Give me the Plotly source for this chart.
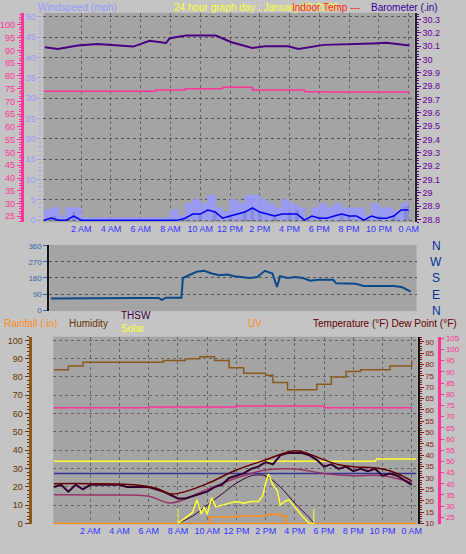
import plotly.graph_objects as go

# ---------- DATA ----------
hh = [i * 0.5 - 0.5 for i in range(50)]  # half-hour steps from -0.5 to 24.0
tick_hours = [2, 4, 6, 8, 10, 12, 14, 16, 18, 20, 22, 24]
tick_text = ["2 AM", "4 AM", "6 AM", "8 AM", "10 AM", "12 PM", "2 PM", "4 PM", "6 PM", "8 PM", "10 PM", "0 AM"]

wind_gust = [2.5, 3, 1, 3, 3, 0.5, 0.5, 0.5, 0.5, 0.5, 0.5, 0.5, 0.5, 0.5, 0.5, 0.5, 0.5, 2.5, 1, 4,
             5, 4, 6, 3, 2, 5, 4, 6, 6, 5, 4, 3, 5, 4, 3, 0.5, 3, 4, 3, 4,
             3, 3, 3, 1, 4, 3, 3, 2, 4, 5]
wind_avg = [0, 0.5, 0, 0, 1, 0, 0, 0, 0, 0, 0, 0, 0, 0, 0, 0, 0, 0, 0, 0.5,
            1.5, 1.5, 2.5, 2, 0.5, 1, 1.5, 2, 3, 2, 1.5, 1, 1.5, 1.5, 1.5, 0, 1, 0.5, 0.5, 1,
            1.5, 1, 1, 0, 1, 0.5, 0.5, 1, 2.5, 2.5]
green_t = [0.2, 1.5, 9.0, 10.0, 11.0, 12.0, 13.0, 13.5, 14.0, 15.0, 16.0, 16.5, 18.0, 19.5, 20.0, 22.0, 23.0, 23.8]
green_v = [1, 2, 1, 1.5, 2, 1, 2.5, 3, 2, 1.5, 2, 2.5, 1, 1, 1, 1, 1, 3.5]

baro_t = [-0.44, 0.44, 1.77, 3.09, 5.5, 6.6, 7.7, 7.95, 9.05, 11.04, 12.1, 13.5, 14.35, 15.9, 16.6, 18.3, 21.6, 22.5, 24.06]
baro_v = [30.092, 30.08, 30.105, 30.117, 30.097, 30.14, 30.124, 30.16, 30.18, 30.18, 30.13, 30.087, 30.1, 30.1, 30.08, 30.11, 30.12, 30.125, 30.105]
intemp_t = [-0.5, 3.0, 7.0, 9.0, 11.5, 13.5, 17.0, 18.5, 24.0]
intemp_v = [74.0, 74.0, 74.5, 75.0, 75.6, 74.5, 73.8, 73.7, 74.0]

dir_t = [0.4, 2.0, 4.0, 6.0, 7.5, 7.7, 8.0, 9.0, 9.1, 9.5, 10.0, 10.5, 11.0, 11.5, 12.0, 12.5, 13.0, 13.5, 14.0,
         14.5, 15.0, 15.3, 15.5, 16.0, 16.5, 17.0, 17.5, 18.0, 19.0, 19.2, 20.5, 21.0, 23.0, 23.5, 23.7, 24.1]
dir_v = [65, 67, 68, 68, 68, 58, 70, 70, 180, 195, 215, 220, 205, 195, 200, 190, 185, 180, 185,
         220, 205, 130, 190, 180, 185, 180, 165, 170, 170, 150, 148, 135, 135, 130, 122, 103]

hum_t = [-0.5, 0.5, 1.5, 3.0, 5.0, 7.0, 8.5, 9.5, 10.5, 11.5, 12.5, 13.5, 14.0, 14.5, 15.5, 16.5, 17.5, 18.5, 19.5, 20.5, 21.5, 22.5, 24.0]
hum_v = [84, 86, 88, 88, 88, 89, 90, 91, 89, 85, 82, 82, 81, 77, 73, 73, 76, 80, 83, 84, 84, 86, 89]
dp2_t = [-0.5, 6.0, 12.0, 18.0, 24.0]
dp2_v = [74.0, 74.3, 74.8, 74.0, 74.2]

temp_t = [-0.5, 2.0, 5.0, 6.5, 7.5, 8.5, 10.0, 12.0, 14.0, 16.0, 17.0, 18.0, 19.0, 20.0, 22.0, 23.0, 24.0]
temp_v = [27.5, 27.5, 27, 25.5, 23, 24, 27.5, 33.5, 38, 42, 40.5, 38, 35.8, 35, 34, 32, 28.7]
thsw_v = [26, 27, 24, 27, 25, 27, 27, 27, 27, 27, 26, 26, 26, 26, 25, 24, 22.5, 21, 21, 22,
          23, 24, 26, 27, 30, 31, 32, 34, 35, 37, 36, 40, 41, 41, 41, 40, 38, 35, 36, 34,
          35, 33, 34, 33, 34, 31, 32, 31, 29, 27]
dew_t = [-0.5, 3.0, 6.0, 7.5, 10.0, 12.0, 14.0, 16.0, 18.0, 20.0, 22.0, 24.0]
dew_v = [22.6, 22.5, 22, 19, 25, 30, 33.5, 34, 32, 31, 31, 28]

freeze_t = [-0.5, 24.3]
freeze_v = [32, 32]
yl_t = [-0.5, 21.5, 21.6, 24.3]
yl_v = [37.4, 37.4, 38.4, 38.4]

sunmax_t = [8.0, 9.0, 10.0, 11.0, 12.0, 13.0, 13.5, 14.0, 15.0, 16.0, 17.0, 17.3]
sunmax_v = [0, 4, 10, 16, 22, 26, 26.5, 26, 20, 11, 3, 0]
solar_t = [8.0, 9.0, 9.3, 9.6, 9.8, 10.0, 10.3, 10.6, 11.0, 11.5, 12.0, 12.5, 13.0, 13.5, 13.8, 14.0, 14.2, 14.5, 14.8, 15.0, 15.3, 15.6, 16.0, 16.5, 17.0, 17.3]
solar_v = [0, 6, 13, 5, 9, 5, 14, 9, 10, 11, 12, 11, 12, 12, 15, 22, 27, 21, 18, 10, 12, 13, 9, 4, 0, 0]
uv_t = [10.0, 10.1, 12.0, 13.5, 14.0, 14.2, 15.0, 15.4, 15.45]
uv_v = [0, 3.5, 4.0, 4.2, 4.4, 5.0, 4.2, 3.5, 0]
zero_t = [-0.5, 24.3]
zero_v = [0, 0]
sun_t = [8.0, 8.0, None, 17.3, 17.3]
sun_v = [0, 8, None, 0, 8]

# ---------- FIGURE ----------
fig = go.Figure()
W, H = 466, 554
def px(v): return v / W
def py(v): return 1 - v / H

# Panel 1
fig.add_trace(go.Scatter(x=hh, y=wind_gust, mode="lines", line=dict(color="#9999ff", width=1, shape="hv"),
                         fill="tozeroy", fillcolor="rgba(153,153,255,0.85)", xaxis="x", yaxis="y"))
fig.add_trace(go.Bar(x=green_t, y=green_v, width=0.25, marker=dict(color="#004400", line_width=0), xaxis="x", yaxis="y"))
fig.add_trace(go.Scatter(x=hh, y=wind_avg, mode="lines", line=dict(color="#0000ee", width=1.5), xaxis="x", yaxis="y"))
fig.add_trace(go.Scatter(x=intemp_t, y=intemp_v, mode="lines", line=dict(color="#ff3399", width=1.5, shape="hv"), xaxis="x", yaxis="y2"))
fig.add_trace(go.Scatter(x=baro_t, y=baro_v, mode="lines", line=dict(color="#4b0082", width=2), xaxis="x", yaxis="y3"))
# Panel 2
fig.add_trace(go.Scatter(x=dir_t, y=dir_v, mode="lines", line=dict(color="#0a4a8a", width=2), xaxis="x2", yaxis="y4"))
# Panel 3
fig.add_trace(go.Scatter(x=hum_t, y=hum_v, mode="lines", line=dict(color="#8b5a1a", width=1.5, shape="hv"), xaxis="x3", yaxis="y5"))
fig.add_trace(go.Scatter(x=dp2_t, y=dp2_v, mode="lines", line=dict(color="#ff3399", width=1.5, shape="hv"), xaxis="x3", yaxis="y8"))
fig.add_trace(go.Scatter(x=yl_t, y=yl_v, mode="lines", line=dict(color="#ffff33", width=1.5), xaxis="x3", yaxis="y7"))
fig.add_trace(go.Scatter(x=freeze_t, y=freeze_v, mode="lines", line=dict(color="#333399", width=1.5), xaxis="x3", yaxis="y7"))
fig.add_trace(go.Scatter(x=dew_t, y=dew_v, mode="lines", line=dict(color="#993366", width=1.5, shape="spline"), xaxis="x3", yaxis="y7"))
fig.add_trace(go.Scatter(x=hh, y=thsw_v, mode="lines", line=dict(color="#330033", width=2), xaxis="x3", yaxis="y7"))
fig.add_trace(go.Scatter(x=temp_t, y=temp_v, mode="lines", line=dict(color="#660000", width=1.5, shape="spline"), xaxis="x3", yaxis="y7"))
fig.add_trace(go.Scatter(x=sunmax_t, y=sunmax_v, mode="lines", line=dict(color="#330033", width=1, shape="spline"), xaxis="x3", yaxis="y9"))
fig.add_trace(go.Scatter(x=sun_t, y=sun_v, mode="lines", line=dict(color="#ffff33", width=1), xaxis="x3", yaxis="y9"))
fig.add_trace(go.Scatter(x=zero_t, y=zero_v, mode="lines", line=dict(color="#ff8c1a", width=1.5), xaxis="x3", yaxis="y9"))
fig.add_trace(go.Scatter(x=uv_t, y=uv_v, mode="lines", line=dict(color="#ff8c1a", width=1.5, shape="hv"), xaxis="x3", yaxis="y9"))
fig.add_trace(go.Scatter(x=solar_t, y=solar_v, mode="lines", line=dict(color="#ffff33", width=1.5), xaxis="x3", yaxis="y9"))

tickf = dict(family="Liberation Sans", size=9, color="#3333ff")
grid = dict(showgrid=True, gridcolor="#666666", griddash="dot", gridwidth=1)
xcommon = dict(tickvals=tick_hours, ticktext=tick_text, tickfont=tickf, ticks="", zeroline=False, **grid)
def yax(color, rng, dtick, **kw):
    d = dict(range=rng, dtick=dtick, tickfont=dict(family="Liberation Sans", size=9, color=color),
             showline=True, linecolor=color, linewidth=2, ticks="outside", tickcolor=color, ticklen=4,
             minor=dict(ticks="outside", ticklen=2, tickcolor=color), zeroline=False, showgrid=False)
    d.update(kw)
    return d

fig.update_layout(
    width=W, height=H, margin=dict(l=0, r=0, t=0, b=0), showlegend=False,
    paper_bgcolor="#c4c4c4", plot_bgcolor="#a4a4a4", barmode="overlay",
    font=dict(family="Liberation Sans"),
    xaxis=dict(domain=[px(42), px(418)], range=[-0.53, 24.4], anchor="y", **xcommon),
    yaxis=yax("#9999ff", [-0.5, 51], 5, showgrid=True, gridcolor="#555555", griddash="dot", linewidth=0, showline=False,
              position=px(40), anchor="free", domain=[py(222), py(10)]),
    yaxis2=yax("#ff3399", [22.7, 104.7], 5, overlaying="y", anchor="free", position=px(20), linewidth=3),
    yaxis3=yax("#660099", [28.78, 30.35], 0.1, overlaying="y", side="right", anchor="x", linecolor="#222222"),
    xaxis2=dict(domain=[px(48), px(420)], range=[0.3, 24.5], anchor="y4", showticklabels=False, showgrid=False, zeroline=False),
    yaxis4=yax("#3366aa", [-5, 365], 90, domain=[py(312), py(245)], anchor="x2", linecolor="#111111",
               showgrid=True, gridcolor="#555555", griddash="dot", tickfont=dict(size=8, color="#3366aa")),
    xaxis3=dict(domain=[px(52), px(421)], range=[-0.53, 24.4], anchor="y5", **xcommon),
    yaxis5=yax("#663300", [-0.5, 102], 10, domain=[py(528), py(338)], anchor="free", position=px(28),
               linecolor="#8b5a1a", linewidth=3, showgrid=True, gridcolor="#666666", griddash="dot"),
    yaxis6=yax("#ff8c1a", [-0.005, 1.22], 0.1, overlaying="y5", anchor="free", position=px(50), linecolor="#111111"),
    yaxis7=yax("#8b1a1a", [9.6, 92.2], 5, overlaying="y5", side="right", anchor="x3", linecolor="#111111",
               tickfont=dict(size=8, color="#8b1a1a")),
    yaxis8=yax("#ff3399", [21.9, 105.7], 5, overlaying="y5", side="right", anchor="free", position=px(443), linewidth=3,
               ticklen=3, tickfont=dict(size=8, color="#ff3399"), minor=dict(ticks="")),
    yaxis9=dict(overlaying="y5", range=[-0.5, 102], visible=False),
)

def ann(text, x, y, color, size=11, xanchor="left"):
    fig.add_annotation(text=text, x=px(x), y=py(y), xref="paper", yref="paper", showarrow=False,
                       font=dict(family="Liberation Sans", size=size, color=color), xanchor=xanchor, yanchor="middle")

ann("Windspeed (mph)", 34, 5, "#9999ff", size=10)
ann("24 hour graph day : January 03 2026", 172, 5, "#ffff33", size=10)
ann("Indoor Temp ---", 292, 5, "#ff2222", size=10)
ann("Barometer (.in)", 372, 5, "#330099", size=10)
for i, lab in enumerate(["N", "W", "S", "E", "N"]):
    ann(lab, 440, 246 + i * 16.5, "#003399", size=12, xanchor="center")
ann("Rainfall (.in)", 0, 325, "#ff8c1a", size=10)
ann("Humidity", 66, 325, "#663300", size=10)
ann("THSW", 119, 317, "#440044", size=10)
ann("Solar", 119, 330, "#ffff33", size=10)
ann("UV", 247, 325, "#ff8c1a", size=10)
ann("Temperature (°F) Dew Point (°F)", 463, 325, "#660000", size=10, xanchor="right")

fig.write_html("out.html", config={"displayModeBar": False}, post_script="document.body.style.margin='0';")
